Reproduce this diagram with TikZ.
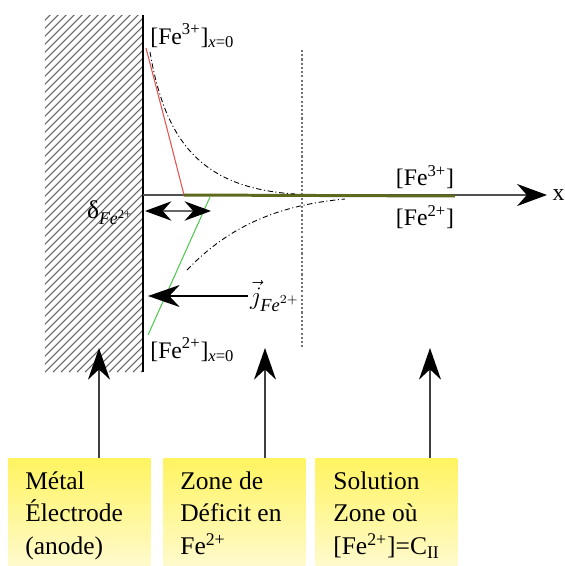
\documentclass[tikz,border=0pt]{standalone}
\usepackage{fontspec}
\setmainfont{Liberation Serif}
\usetikzlibrary{arrows.meta, positioning, calc}
\definecolor{axisgray}{RGB}{80,80,80}
\definecolor{fe3red}{RGB}{230,80,80}
\definecolor{fe2green}{RGB}{80,200,80}
\definecolor{bulkolive}{RGB}{95,105,30}
\definecolor{boxtop}{RGB}{255,244,96}
\definecolor{boxbot}{RGB}{255,250,205}

\begin{document}
\begin{tikzpicture}[x=0.02cm, y=-0.02cm,
    chem/.style={font=\fontsize{13.5}{16}\selectfont, inner sep=0pt},
    zonebox/.style={draw=none, minimum width=2.84cm, minimum height=2.16cm,
      anchor=north west, top color=boxtop, bottom color=boxbot},
    zonetxt/.style={anchor=north west, align=left, inner sep=0pt,
      font=\fontsize{14.5}{18.7}\selectfont},
    upar/.style={line width=1.1pt, draw=black!75,
      -{Stealth[length=18pt, width=12.5pt, color=black]}},
    curve/.style={line width=0.5pt, dash pattern=on 3pt off 1.5pt on 0.6pt off 1.5pt}]
\useasboundingbox (0,0) rectangle (565,566);

%% LEFT: metal electrode, hatched
\begin{scope}
  \clip (45,15) rectangle (143,372);
  \foreach \k in {0,...,58}{
    \draw[line width=0.6pt, black!60] ({-315+8*\k},372) -- ++(400,-400);
  }
\end{scope}
\coordinate (etop) at (143,15);
\coordinate (ebot) at (143,372);
\draw[line width=1.1pt] (etop) -- (ebot);

%% x axis and boundary of the deficit zone
\coordinate (o) at (143,195);
\coordinate (xend) at (547,195);
\draw[line width=1.3pt, axisgray,
  -{Stealth[length=17pt, width=12.5pt, color=black]}] (o) -- (xend);
\node[chem, right=3pt of xend] (xlab) {x};
\coordinate (dtop) at (302,50);
\coordinate (dbot) at (302,348);
\draw[line width=1.1pt, black!55, dash pattern=on 1.2pt off 1.2pt] (dtop) -- (dbot);

%% concentration profiles
\coordinate (c3) at (146,48);
\coordinate (c2) at (148,335);
\coordinate (r0) at (184,195);
\coordinate (g0) at (210,197);
\draw[line width=0.6pt, fe3red] (c3) .. controls (170,140) .. (r0);
\draw[line width=0.6pt, fe2green] (c2) -- (g0);
\draw[line width=1.7pt, bulkolive] (r0) -- (455,196);
\draw[curve] (150,52) .. controls (165,140) and (200,188) .. (295,194);
\draw[curve] (187,270) .. controls (230,225) and (280,205) .. (345,199);

%% labels of the profiles
\node[chem, anchor=west] (fe3o) at (150,36) {[Fe\textsuperscript{3+}]\textsubscript{\textit{x}=0}};
\node[chem, anchor=west] (fe2o) at (150,350) {[Fe\textsuperscript{2+}]\textsubscript{\textit{x}=0}};
\node[chem] (fe3) at (425,177) {[Fe\textsuperscript{3+}]};
\node[chem] (fe2) at (425,217) {[Fe\textsuperscript{2+}]};

%% diffusion layer thickness
\coordinate (d1) at (145,211);
\coordinate (d2) at (211,211);
\draw[line width=1.1pt, black!60,
  {Stealth[length=15pt, width=11pt, color=black]}-{Stealth[length=15pt, width=11pt, color=black]}] (d1) -- (d2);
\node[chem, font=\fontsize{14.5}{16}\selectfont] (delta) at (110,213) {δ\textsubscript{\textit{Fe}\textsuperscript{2+}}};

%% flux of Fe2+
\coordinate (jt) at (148,296);
\coordinate (js) at (248,296);
\draw[line width=1pt, -{Stealth[length=18pt, width=12.5pt]}] (js) -- (jt);
\node[chem, anchor=west, font=\fontsize{15}{18}\selectfont] (jlab) at ([xshift=1pt]js) {$\vec{j}_{\mathit{Fe}^{2+}}$};

%% BOTTOM: the three zones
\node[zonebox] (box1) at (8,458) {};
\node[zonebox] (box2) at (163,458) {};
\node[zonebox] (box3) at (315,458) {};
\node[zonetxt] (t1) at (25,471) {Métal\\Électrode\\(anode)};
\node[zonetxt] (t2) at (180,471) {Zone de\\Déficit en\\Fe\textsuperscript{2+}};
\node[zonetxt] (t3) at (333,471) {Solution\\Zone où\\{[}Fe\textsuperscript{2+}]=C\textsubscript{II}};

\coordinate (a1) at (99,348);
\coordinate (a2) at (265,348);
\coordinate (a3) at (430,348);
\draw[upar] (box1.north -| a1) -- (a1);
\draw[upar] (box2.north -| a2) -- (a2);
\draw[upar] (box3.north -| a3) -- (a3);
\end{tikzpicture}
\end{document}
